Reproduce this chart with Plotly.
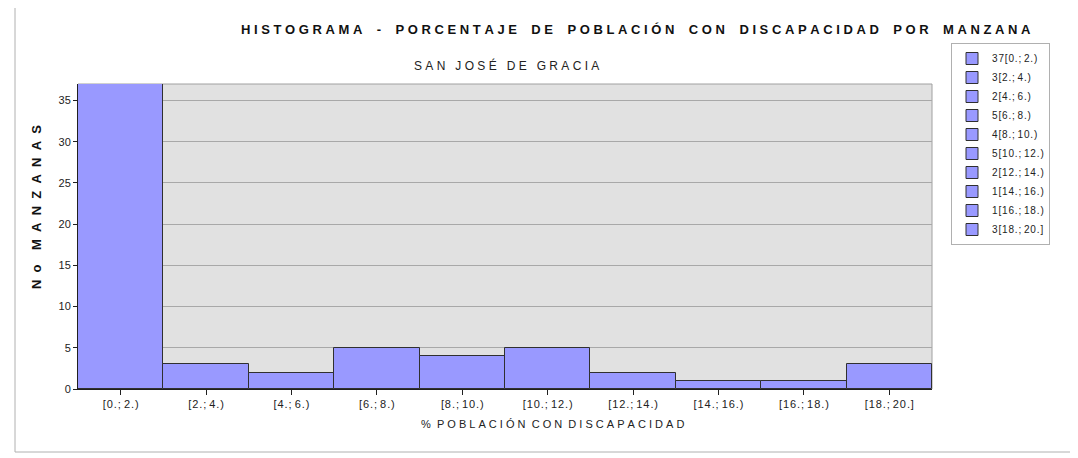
import plotly.graph_objects as go

categories = ["[0.; 2.)", "[2.; 4.)", "[4.; 6.)", "[6.; 8.)", "[8.; 10.)",
              "[10.; 12.)", "[12.; 14.)", "[14.; 16.)", "[16.; 18.)", "[18.; 20.]"]
counts = [37, 3, 2, 5, 4, 5, 2, 1, 1, 3]
y_ticks = [0, 5, 10, 15, 20, 25, 30, 35]

title_text = "HISTOGRAMA - PORCENTAJE DE POBLACIÓN CON DISCAPACIDAD POR MANZANA"
subtitle_text = "SAN JOSÉ DE GRACIA"
x_title = "% POBLACIÓN CON DISCAPACIDAD"
y_title = "No MANZANAS"

OFF = 8  # page body margin
W, H = 1078, 458
L, R, T, B = 78 - OFF, 932 - OFF, 84 - OFF, 389 - OFF

FONT = "Liberation Sans, Arial, sans-serif"


def spaced(s, gap="\u00a0", wordgap="\u00a0\u00a0\u00a0"):
    words = s.split(" ")
    return wordgap.join(gap.join(list(w)) for w in words)


def px(x):
    return (x - OFF - L) / (R - L)


def py(y):
    return (B - (y - OFF)) / (B - T)


fig = go.Figure()
for i, (c, v) in enumerate(zip(categories, counts)):
    fig.add_trace(go.Bar(
        x=[c], y=[v], width=1,
        name=spaced(f"{v}{c}", "\u200a", "\u00a0"),
        marker=dict(color="#9999ff", line=dict(color="#303030", width=1)),
        hoverinfo="x+y",
    ))

fig.update_layout(
    width=W, height=H,
    margin=dict(l=L, r=W - R, t=T, b=H - B),
    paper_bgcolor="white",
    plot_bgcolor="#e1e1e1",
    barmode="overlay",
    bargap=0,
    font=dict(family=FONT, size=11, color="#222"),
    showlegend=True,
    legend=dict(
        x=px(951), y=py(43), xanchor="left", yanchor="top",
        bgcolor="white", bordercolor="#b0b0b0", borderwidth=1,
        font=dict(family=FONT, size=10, color="#222"),
        itemwidth=30, tracegroupgap=0,
    ),
)

fig.update_xaxes(
    type="category",
    categoryorder="array", categoryarray=categories,
    tickvals=categories,
    ticktext=[spaced(c, "\u200a", "\u00a0") for c in categories],
    ticks="outside", ticklen=5, tickcolor="#202020",
    showline=True, linecolor="#202020", linewidth=1,
    showgrid=False,
    tickfont=dict(family=FONT, size=11, color="#222"),
    range=[-0.5, 9.5],
)
fig.update_yaxes(
    range=[0, 37],
    tickvals=y_ticks,
    ticks="outside", ticklen=4, tickcolor="#202020",
    showline=True, linecolor="#202020", linewidth=1,
    showgrid=True, gridcolor="#a8a8a8", gridwidth=1,
    zeroline=False,
    tickfont=dict(family=FONT, size=11, color="#222"),
)

# plot area border (top/right)
fig.add_shape(type="rect", xref="paper", yref="paper", x0=0, x1=1, y0=0, y1=1,
              line=dict(color="#a0a0a0", width=1), layer="below")
# outer frame
fig.add_shape(type="rect", xref="paper", yref="paper",
              x0=px(15), x1=px(1071), y0=py(452), y1=py(0),
              line=dict(color="#b0b0b0", width=1))

fig.add_annotation(text="<b>" + spaced(title_text, "\u00a0", "\u00a0\u00a0\u00a0\u00a0") + "</b>",
                   xref="paper", yref="paper",
                   x=px(636), y=py(30), showarrow=False, xanchor="center", yanchor="middle",
                   font=dict(family=FONT, size=13, color="#111"))
fig.add_annotation(text=spaced(subtitle_text, "\u00a0", "\u00a0\u00a0\u00a0"), xref="paper", yref="paper",
                   x=px(506), y=py(65), showarrow=False, xanchor="center", yanchor="middle",
                   font=dict(family=FONT, size=12, color="#222"))
fig.add_annotation(text=spaced(x_title, "\u00a0", "\u00a0\u00a0"), xref="paper", yref="paper",
                   x=px(552), y=py(424), showarrow=False, xanchor="center", yanchor="middle",
                   font=dict(family=FONT, size=11, color="#222"))
fig.add_annotation(text="<b>" + spaced(y_title, "\u00a0\u00a0", "\u00a0\u00a0\u00a0\u00a0") + "</b>",
                   xref="paper", yref="paper",
                   x=px(36), y=py(207), showarrow=False, xanchor="center", yanchor="middle",
                   textangle=-90, font=dict(family=FONT, size=13, color="#111"))

fig.write_html("out.html")
